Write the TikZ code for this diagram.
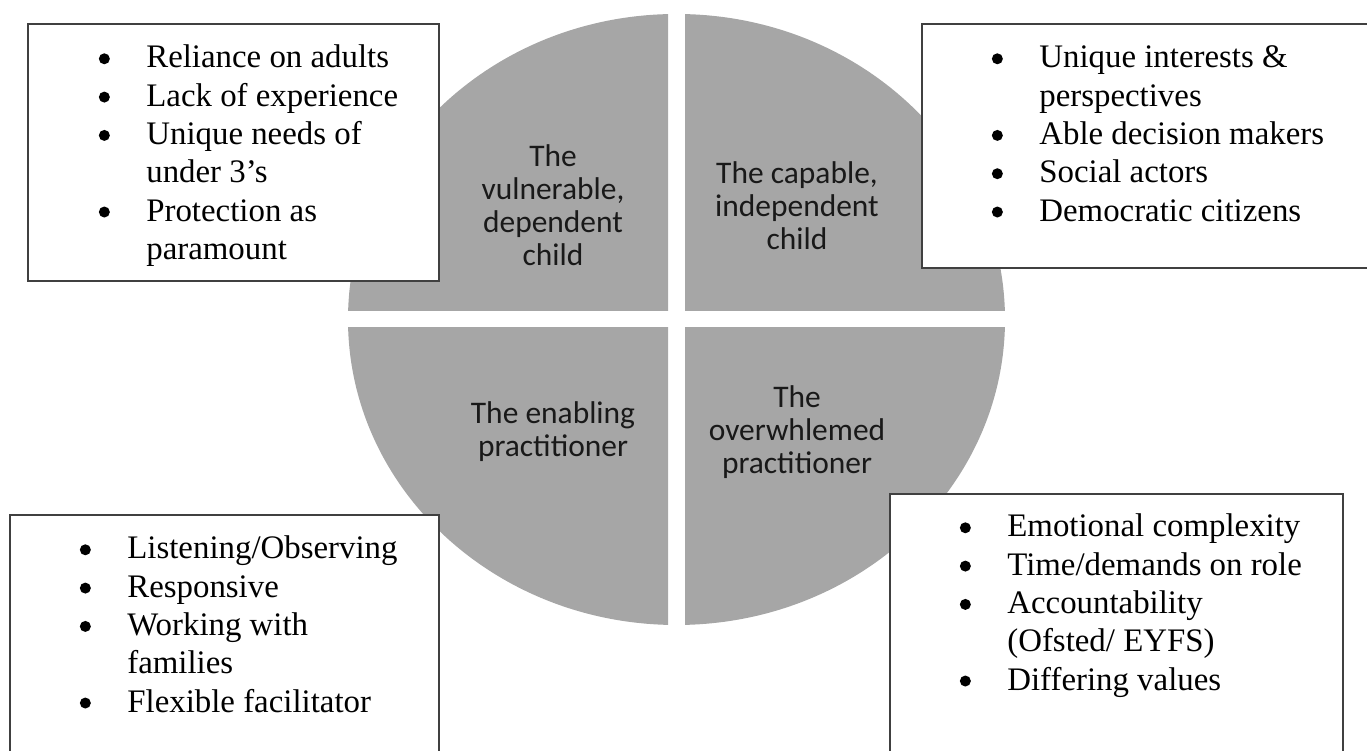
\documentclass[tikz,border=0pt]{standalone}
\usepackage{fontspec}
\setmainfont{Liberation Serif}
\newfontfamily\quadfont{Carlito}
\usepackage{tikz}

\definecolor{quadgray}{RGB}{166,166,166}
\definecolor{boxline}{RGB}{64,64,64}
\newcommand{\bul}{\tikz[baseline=-0.28em]\fill (0,0) circle (0.11cm);}

\tikzset{
  quad/.style={fill=quadgray},
  quadtext/.style={font=\quadfont\fontsize{17.9}{18.7}\selectfont, text=black!90, align=center},
  listbox/.style={draw=boxline, line width=0.8pt, fill=white},
  listtext/.style={font=\fontsize{18.7}{21.8}\selectfont, inner sep=0pt, anchor=base west}
}

\begin{document}
\begin{tikzpicture}
\useasboundingbox (0,0) rectangle (27.34,15.02);
\clip (0,0) rectangle (27.34,15.02);
% four quarters of the oval, with a gap between them
\foreach \sx/\sy in {1/1,-1/1,1/-1,-1/-1} {
  \begin{scope}
    \clip (13.53+\sx*0.17,8.63+\sy*0.17) rectangle (13.53+\sx*7,8.63+\sy*7);
    \fill[quad] (13.53,8.63) ellipse (6.57 and 6.11);
  \end{scope}
}
\node[quadtext] (vulnerable) at (11.06,10.92) {The\\vulnerable,\\dependent\\child};
\node[quadtext] (capable) at (15.94,10.90) {The capable,\\independent\\child};
\node[quadtext] (enabling) at (11.06,6.38) {The enabling\\practitioner};
\node[quadtext] (overwhelmed) at (15.94,6.38) {The\\overwhlemed\\practitioner};
% the four lists
\draw[listbox] (0.56,14.54) rectangle (8.78,9.40);
\node[listtext] (vulnlist) at (1.97,13.66) {\begin{tabular}[t]{@{}p{0.95cm}@{}l@{}}
\bul & Reliance on adults\\
\bul & Lack of experience\\
\bul & Unique needs of\\
 & under 3’s\\
\bul & Protection as\\
 & paramount
\end{tabular}};
\draw[listbox] (18.44,14.54) rectangle (28,9.66);
\node[listtext] (caplist) at (19.83,13.66) {\begin{tabular}[t]{@{}p{0.95cm}@{}l@{}}
\bul & Unique interests \&\\
 & perspectives\\
\bul & Able decision makers\\
\bul & Social actors\\
\bul & Democratic citizens
\end{tabular}};
\draw[listbox] (0.20,4.72) rectangle (8.78,-0.5);
\node[listtext] (enablist) at (1.59,3.84) {\begin{tabular}[t]{@{}p{0.95cm}@{}l@{}}
\bul & Listening/Observing\\
\bul & Responsive\\
\bul & Working with\\
 & families\\
\bul & Flexible facilitator
\end{tabular}};
\draw[listbox] (17.80,5.14) rectangle (26.86,-0.5);
\node[listtext] (overlist) at (19.19,4.28) {\begin{tabular}[t]{@{}p{0.95cm}@{}l@{}}
\bul & Emotional complexity\\
\bul & Time/demands on role\\
\bul & Accountability\\
 & (Ofsted/ EYFS)\\
\bul & Differing values
\end{tabular}};
\end{tikzpicture}
\end{document}
